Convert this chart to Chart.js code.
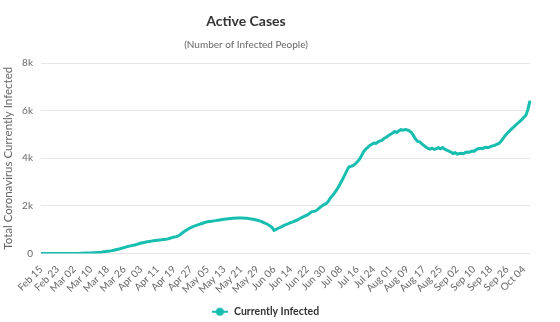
<!DOCTYPE html>
<html>
<head>
<meta charset="utf-8">
<script src="https://cdn.jsdelivr.net/npm/chart.js@4"></script>
<style>
  html, body { margin: 0; padding: 0; background: #fff; }
</style>
</head>
<body>
<canvas id="activeChart" width="560" height="322"></canvas>
<script>
// Active cases (one value per day)
var startDay = { year: 2020, month: 1, day: 15 }; // Feb 15
var monthNames = ['Jan', 'Feb', 'Mar', 'Apr', 'May', 'Jun', 'Jul', 'Aug', 'Sep', 'Oct', 'Nov', 'Dec'];

var activeFeb = [0, 0, 0, 0, 0, 0, 0, 0, 0, 0, 0, 0, 0, 0, 0];
var activeMar = [1, 2, 3, 5, 8, 12, 16, 20, 22, 26, 30, 34, 38, 42, 55, 70, 80, 95, 105, 120,
  140, 160, 180, 200, 225, 250, 280, 305, 320, 340, 360];
var activeApr = [385, 410, 440, 455, 470, 490, 505, 520, 535, 545, 555, 565, 575, 590, 600,
  615, 640, 665, 690, 710, 740, 800, 870, 930, 990, 1040, 1090, 1130, 1160, 1190];
var activeMay = [1220, 1250, 1280, 1310, 1330, 1345, 1355, 1370, 1380, 1395, 1410, 1425, 1440,
  1450, 1460, 1470, 1480, 1485, 1490, 1492, 1490, 1488, 1482, 1478, 1465, 1450, 1435, 1415,
  1395, 1370, 1340];
var activeJun = [1300, 1260, 1220, 1160, 1100, 970, 1010, 1060, 1100, 1140, 1190, 1220, 1260,
  1300, 1330, 1365, 1400, 1450, 1500, 1540, 1580, 1620, 1680, 1750, 1770, 1790, 1850, 1930,
  2000, 2050];
var activeJul = [2090, 2180, 2320, 2420, 2540, 2660, 2800, 2960, 3130, 3300, 3480, 3640, 3660,
  3700, 3760, 3850, 3950, 4100, 4270, 4380, 4460, 4540, 4590, 4640, 4620, 4690, 4730, 4760,
  4840, 4880, 4950];
var activeAug = [5010, 5060, 5120, 5080, 5150, 5200, 5180, 5210, 5190, 5150, 5080, 4950, 4800,
  4710, 4690, 4600, 4540, 4470, 4410, 4380, 4420, 4370, 4400, 4440, 4400, 4450, 4380, 4340,
  4300, 4260, 4200];
var activeSep = [4230, 4170, 4200, 4210, 4190, 4240, 4260, 4250, 4300, 4290, 4350, 4400, 4420,
  4400, 4440, 4460, 4450, 4490, 4520, 4540, 4580, 4620, 4700, 4820, 4950, 5040, 5130, 5220,
  5300, 5380];
var activeOct = [5460, 5540, 5620, 5720, 5800, 6050, 6420];

var yTicks = [0, 2000, 4000, 6000, 8000];
var tickEvery = 8; // one date label every 8 days

var chartTitle = 'Active Cases';
var chartSubtitle = '(Number of Infected People)';
var yTitle = 'Total Coronavirus Currently Infected';
var seriesName = 'Currently Infected';
var lineColor = '#17beb0';

var activeCases = [].concat(activeFeb, activeMar, activeApr, activeMay, activeJun,
  activeJul, activeAug, activeSep, activeOct);

// build day labels like "Feb 15", "Mar 02"
var days = [];
for (var i = 0; i < activeCases.length; i++) {
  var d = new Date(startDay.year, startDay.month, startDay.day + i);
  var dd = d.getDate();
  days.push(monthNames[d.getMonth()] + ' ' + (dd < 10 ? '0' + dd : dd));
}

// legend icon: short line with a dot on it
var legendIcon = document.createElement('canvas');
legendIcon.width = 16;
legendIcon.height = 10;
var ic = legendIcon.getContext('2d');
ic.strokeStyle = lineColor;
ic.lineWidth = 2;
ic.beginPath();
ic.moveTo(0, 5);
ic.lineTo(16, 5);
ic.stroke();
ic.fillStyle = lineColor;
ic.beginPath();
ic.arc(8, 5, 4, 0, Math.PI * 2);
ic.fill();

var headerPlugin = {
  id: 'header',
  afterDraw: function (chart) {
    var ctx = chart.ctx;
    ctx.save();
    ctx.textAlign = 'center';
    ctx.textBaseline = 'middle';
    ctx.fillStyle = '#333333';
    ctx.font = 'bold 14px Lato';
    ctx.fillText(chartTitle, 246, 21);
    ctx.fillStyle = '#666666';
    ctx.font = '10px Lato';
    ctx.fillText(chartSubtitle, 246, 45);
    ctx.restore();
  }
};

var ctx = document.getElementById('activeChart');
var chart = new Chart(ctx, {
  type: 'line',
  data: {
    labels: days,
    datasets: [{
      label: seriesName,
      data: activeCases,
      borderColor: lineColor,
      backgroundColor: lineColor,
      borderWidth: 3,
      pointRadius: 0,
      tension: 0
    }]
  },
  options: {
    responsive: false,
    animation: false,
    layout: { padding: { top: 63, right: 30, bottom: -5, left: 0 } },
    plugins: {
      title: { display: false },
      tooltip: { enabled: false },
      legend: {
        position: 'bottom',
        labels: {
          usePointStyle: true,
          pointStyle: legendIcon,
          pointStyleWidth: 18,
          color: '#333333',
          font: { family: 'Lato', size: 10.5, weight: 'bold' },
          padding: 4
        }
      }
    },
    scales: {
      x: {
        grid: { display: false },
        border: { display: false },
        afterFit: function (scale) { scale.height = 49; },
        ticks: {
          autoSkip: false,
          minRotation: 45,
          maxRotation: 45,
          padding: 2,
          color: '#666666',
          font: { family: 'Lato', size: 10 },
          callback: function (val, index) {
            return index % tickEvery === 0 ? this.getLabelForValue(val) : '';
          }
        }
      },
      y: {
        min: yTicks[0],
        max: yTicks[yTicks.length - 1],
        afterFit: function (scale) { scale.width = 41; },
        afterBuildTicks: function (scale) {
          scale.ticks = yTicks.map(function (v) { return { value: v }; });
        },
        grid: { color: '#e6e6e6', drawTicks: false },
        border: { display: false },
        ticks: {
          padding: 8,
          color: '#666666',
          font: { family: 'Lato', size: 10 },
          callback: function (v) { return v === 0 ? '0' : (v / 1000) + 'k'; }
        },
        title: {
          display: true,
          text: yTitle,
          color: '#666666',
          font: { family: 'Lato', size: 11.5 },
          padding: { top: 1, bottom: 0 }
        }
      }
    }
  },
  plugins: [headerPlugin]
});
</script>
</body>
</html>
